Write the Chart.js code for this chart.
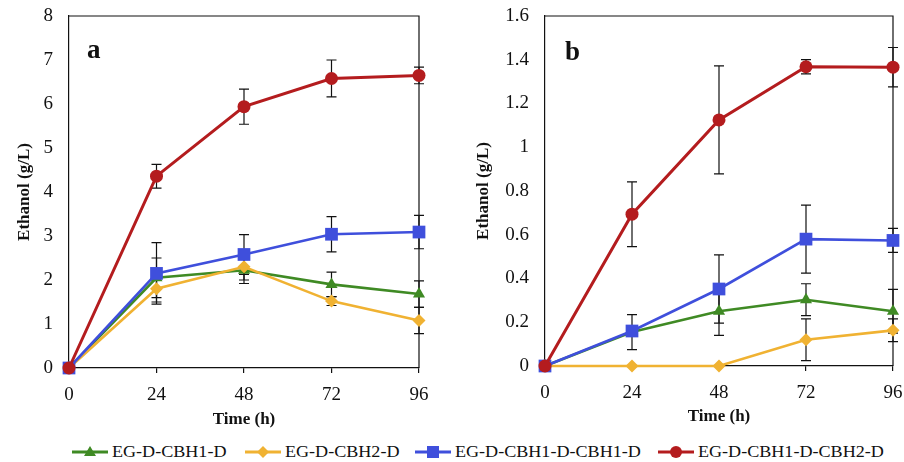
<!DOCTYPE html>
<html>
<head>
<meta charset="utf-8">
<script src="https://cdn.jsdelivr.net/npm/chart.js@4/dist/chart.umd.min.js"></script>
<style>
    body { margin: 0; background: #fff; }
    #wrap { position: relative; width: 904px; height: 462px; overflow: hidden; font-family: "Liberation Serif", "Times New Roman", serif; }
    .box { position: absolute; top: 0; width: 452px; height: 430px; }
    .panel { position: absolute; font-weight: bold; font-size: 27px; color: #111; }
    .leg { position: absolute; top: 441px; height: 22px; display: flex; align-items: center; white-space: nowrap; }
    .leg span { font-size: 16px; color: #111; display: inline-block; transform: scaleX(1.13); transform-origin: left center; }
    .leg svg { margin-right: 2px; }
</style>
</head>
<body>
<div id="wrap">
    <div class="box" style="left:0"><canvas id="chart-a"></canvas></div>
    <div class="box" style="left:452px"><canvas id="chart-b"></canvas></div>
    <div class="panel" style="left:87px; top:34px">a</div>
    <div class="panel" style="left:565px; top:36px">b</div>
    <div id="legend"></div>
</div>
<script>
    // time points (h) and tick labels
    var hours = [0, 24, 48, 72, 96];
    var xTicks = ['0', '24', '48', '72', '96'];
    var yTicksA = ['0', '1', '2', '3', '4', '5', '6', '7', '8'];
    var yTicksB = ['0', '0.2', '0.4', '0.6', '0.8', '1', '1.2', '1.4', '1.6'];

    var seriesNames = ['EG-D-CBH1-D', 'EG-D-CBH2-D', 'EG-D-CBH1-D-CBH1-D', 'EG-D-CBH1-D-CBH2-D'];

    // panel a
    var greenA = [0, 2.05, 2.22, 1.9, 1.68];
    var yellowA = [0, 1.8, 2.3, 1.52, 1.08];
    var blueA = [0, 2.15, 2.58, 3.04, 3.09];
    var redA = [0, 4.36, 5.94, 6.58, 6.65];
    var greenErrA = [0, 0.45, 0.3, 0.28, 0.3];
    var yellowErrA = [0, 0.3, 0.3, 0.1, 0.3];
    var blueErrA = [0, 0.7, 0.45, 0.4, 0.38];
    var redErrA = [0, 0.27, 0.4, 0.42, 0.19];

    // panel b
    var greenB = [0, 0.155, 0.25, 0.303, 0.25];
    var yellowB = [0, 0, 0, 0.12, 0.163];
    var blueB = [0, 0.16, 0.352, 0.58, 0.574];
    var redB = [0, 0.694, 1.125, 1.368, 1.366];
    var greenErrB = [0, 0.08, 0.11, 0.073, 0.1];
    var yellowErrB = [0, 0, 0, 0.095, 0.052];
    var blueErrB = [0, 0, 0.156, 0.155, 0.055];
    var redErrB = [0, 0.148, 0.247, 0.033, 0.09];

    function seriesStyles() {
        return [
            { color: '#3f8a24', point: 'triangle', radius: 7 },
            { color: '#f0b232', point: 'rectRot', radius: 6.5 },
            { color: '#3f4fdc', point: 'rect', radius: 9 },
            { color: '#b41c1e', point: 'circle', radius: 6.5 }
        ];
    }

    var errorBars = {
        id: 'errorBars',
        beforeDatasetsDraw: function(chart) {
            let ctx = chart.ctx;
            let x = chart.scales.x, y = chart.scales.y;
            ctx.save();
            ctx.strokeStyle = '#111';
            ctx.lineWidth = 1.2;
            chart.data.datasets.forEach(function(ds) {
                ds.data.forEach(function(p, i) {
                    var e = ds.errors[i];
                    if (!e) return;
                    var px = x.getPixelForValue(p.x);
                    var top = y.getPixelForValue(p.y + e);
                    var bot = y.getPixelForValue(p.y - e);
                    ctx.beginPath();
                    ctx.moveTo(px, top); ctx.lineTo(px, bot);
                    ctx.moveTo(px - 5, top); ctx.lineTo(px + 5, top);
                    ctx.moveTo(px - 5, bot); ctx.lineTo(px + 5, bot);
                    ctx.stroke();
                });
            });
            ctx.restore();
        }
    };

    var frame = {
        id: 'frame',
        beforeDatasetsDraw: function(chart) {
            let a = chart.chartArea, ctx = chart.ctx;
            ctx.save();
            ctx.strokeStyle = '#111';
            ctx.lineWidth = 1.2;
            ctx.beginPath();
            ctx.moveTo(a.left, a.top); ctx.lineTo(a.right, a.top); ctx.lineTo(a.right, a.bottom);
            ctx.stroke();
            ctx.restore();
        }
    };

    function makeDatasets(values, errors) {
        let styles = seriesStyles();
        return values.map(function(vals, s) {
            return {
                label: seriesNames[s],
                data: vals.map(function(v, i) { return { x: hours[i], y: v }; }),
                errors: errors[s],
                borderColor: styles[s].color,
                backgroundColor: styles[s].color,
                pointStyle: styles[s].point,
                pointRadius: styles[s].radius,
                pointBorderWidth: 0,
                borderWidth: s === 3 ? 3 : 2.6,
                clip: false,
                order: 4 - s
            };
        });
    }

    function drawPanel(id, datasets, yMax, yStep, yTicks, opts) {
        let ctx = document.getElementById(id);
        let font = { family: '"Liberation Serif", "Times New Roman", serif', size: 19 };
        let titleFont = { family: '"Liberation Serif", "Times New Roman", serif', size: 17, weight: 'bold' };

        return new Chart(ctx, {
            type: 'line',
            data: { datasets: datasets },
            plugins: [frame, errorBars],
            options: {
                responsive: true,
                maintainAspectRatio: false,
                animation: false,
                layout: { padding: { left: 0, right: opts.padRight, top: 16, bottom: 0 } },
                plugins: { legend: { display: false }, tooltip: { enabled: false } },
                scales: {
                    x: {
                        type: 'linear', min: 0, max: 96,
                        afterFit: function(scale) {
                            scale.height = opts.xHeight;
                            scale.paddingLeft = 0;
                            scale.paddingRight = 0;
                        },
                        ticks: {
                            stepSize: 24, padding: 11, color: '#111', font: font,
                            maxRotation: 0,
                            callback: function(v) { return xTicks[hours.indexOf(v)]; }
                        },
                        grid: { display: true, drawOnChartArea: false, drawTicks: true, tickLength: 5, color: '#111', lineWidth: 1.2 },
                        border: { display: true, color: '#111', width: 1.2 },
                        title: { display: true, text: 'Time (h)', color: '#111', font: titleFont, padding: { top: 0, bottom: opts.xTitlePad } }
                    },
                    y: {
                        min: 0, max: yMax,
                        afterFit: function(scale) {
                            scale.width = opts.yWidth;
                            scale.paddingTop = 0;
                            scale.paddingBottom = 0;
                        },
                        ticks: {
                            stepSize: yStep, padding: 16, color: '#111', font: font,
                            callback: function(v, i) { return yTicks[i]; }
                        },
                        grid: { display: false, drawTicks: false },
                        border: { display: true, color: '#111', width: 1.2 },
                        title: { display: true, text: 'Ethanol (g/L)', color: '#111', font: titleFont, padding: { top: opts.yTitlePad, bottom: 0 } }
                    }
                }
            }
        });
    }

    function buildLegend() {
        let styles = seriesStyles();
        let lefts = [72, 245, 415, 658];
        let marks = [
            '<polygon points="18,5 24,15 12,15"/>',
            '<polygon points="18,5 24,11 18,17 12,11"/>',
            '<rect x="12" y="5" width="12" height="12"/>',
            '<circle cx="18" cy="11" r="6"/>'
        ];
        let html = '';
        for (var i = 0; i < seriesNames.length; i++) {
            html += '<div class="leg" style="left:' + lefts[i] + 'px">' +
                '<svg width="38" height="22" fill="' + styles[i].color + '">' +
                '<line x1="0" y1="11" x2="36" y2="11" stroke="' + styles[i].color + '" stroke-width="3"/>' +
                marks[i] + '</svg><span>' + seriesNames[i] + '</span></div>';
        }
        document.getElementById('legend').innerHTML = html;
    }

    drawPanel('chart-a',
        makeDatasets([greenA, yellowA, blueA, redA], [greenErrA, yellowErrA, blueErrA, redErrA]),
        8, 1, yTicksA,
        { padRight: 33, xHeight: 62, yWidth: 69, xTitlePad: 0, yTitlePad: 14 });

    drawPanel('chart-b',
        makeDatasets([greenB, yellowB, blueB, redB], [greenErrB, yellowErrB, blueErrB, redErrB]),
        1.6, 0.2, yTicksB,
        { padRight: 11, xHeight: 64, yWidth: 93, xTitlePad: 3, yTitlePad: 21 });

    buildLegend();
</script>
</body>
</html>
